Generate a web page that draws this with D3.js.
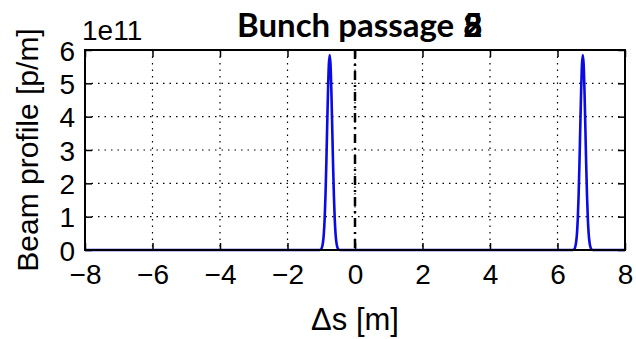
<!DOCTYPE html>
<html>
<head>
<meta charset="utf-8">
<script src="https://cdn.jsdelivr.net/npm/d3@7"></script>
<style>
  html, body { margin: 0; padding: 0; background: #fff; }
  svg { display: block; }
</style>
</head>
<body>
<svg id="chart" width="636" height="339"></svg>
<script>
// ---- data (profile in units of 1e11 p/m) ----
const titleText = "Bunch passage";
const titleDigits = ["8", "5", "3", "2"];
const xTicks = [-8, -6, -4, -2, 0, 2, 4, 6, 8];
const yTicks = [0, 1, 2, 3, 4, 5, 6];
const yExponent = "1e11";
const xLabel = "\u0394s [m]";
const yLabel = "Beam profile [p/m]";
const markerPosition = 0;

const positions = [
  -8, -1.05, -1.0, -0.975, -0.95, -0.925, -0.9, -0.875, -0.85, -0.825, -0.8, -0.775,
  -0.75, -0.725, -0.7, -0.675, -0.65, -0.625, -0.6, -0.575, -0.55, -0.525, -0.5, -0.45,
  6.45, 6.5, 6.525, 6.55, 6.575, 6.6, 6.625, 6.65, 6.675, 6.7, 6.725,
  6.75, 6.775, 6.8, 6.825, 6.85, 6.875, 6.9, 6.925, 6.95, 6.975, 7.0, 7.05, 8
];
const profile = [
  0, 0, 0.03, 0.09, 0.22, 0.47, 0.92, 1.62, 2.57, 3.69, 4.76, 5.56,
  5.85, 5.56, 4.76, 3.69, 2.57, 1.62, 0.92, 0.47, 0.22, 0.09, 0.03, 0,
  0, 0.03, 0.09, 0.22, 0.47, 0.92, 1.62, 2.57, 3.69, 4.76, 5.56,
  5.85, 5.56, 4.76, 3.69, 2.57, 1.62, 0.92, 0.47, 0.22, 0.09, 0.03, 0, 0
];

// ---- layout ----
const svg = d3.select("#chart");
const m = { left: 85, right: 625, top: 50, bottom: 250 };
const x = d3.scaleLinear().domain([-8, 8]).range([m.left, m.right]);
const y = d3.scaleLinear().domain([0, 6]).range([m.bottom, m.top]);
const tickFont = "'Liberation Sans', Arial, sans-serif";
const titleFont = "Lato, 'Open Sans', sans-serif";

// grid
const grid = svg.append("g");
grid.selectAll("line.gx").data(xTicks.slice(1, -1)).join("line")
  .attr("x1", d => x(d)).attr("x2", d => x(d))
  .attr("y1", m.top).attr("y2", m.bottom)
  .attr("stroke", "#000").attr("stroke-width", 1.2).attr("stroke-dasharray", "1.5,5");
grid.selectAll("line.gy").data(yTicks.slice(1, -1)).join("line")
  .attr("y1", d => y(d)).attr("y2", d => y(d))
  .attr("x1", m.left).attr("x2", m.right)
  .attr("stroke", "#000").attr("stroke-width", 1.2).attr("stroke-dasharray", "1.5,5");

// dash-dot marker line
svg.append("line")
  .attr("x1", x(markerPosition)).attr("x2", x(markerPosition))
  .attr("y1", m.top).attr("y2", m.bottom)
  .attr("stroke", "#000").attr("stroke-width", 2.5)
  .attr("stroke-dasharray", "9,5,2,5");

// profile line
const pts = positions.map((p, i) => [p, profile[i]]);
svg.append("path")
  .datum(pts)
  .attr("fill", "none")
  .attr("stroke", "#0a0ae6")
  .attr("stroke-width", 2.6)
  .attr("stroke-linejoin", "round")
  .attr("d", d3.line().x(d => x(d[0])).y(d => y(d[1])).curve(d3.curveMonotoneX));

// axes with inward ticks
const tl = 7;
const axB = svg.append("g").attr("transform", `translate(0,${m.bottom})`)
  .call(d3.axisBottom(x).tickValues(xTicks).tickSizeInner(-tl).tickSizeOuter(0).tickPadding(14)
    .tickFormat(d => d < 0 ? "\u2212" + Math.abs(d) : String(d)));
const axT = svg.append("g").attr("transform", `translate(0,${m.top})`)
  .call(d3.axisTop(x).tickValues(xTicks).tickSizeInner(-tl).tickSizeOuter(0).tickFormat(""));
const axL = svg.append("g").attr("transform", `translate(${m.left},0)`)
  .call(d3.axisLeft(y).tickValues(yTicks).tickSizeInner(-tl).tickSizeOuter(0).tickPadding(10)
    .tickFormat(d3.format("d")));
const axR = svg.append("g").attr("transform", `translate(${m.right},0)`)
  .call(d3.axisRight(y).tickValues(yTicks).tickSizeInner(-tl).tickSizeOuter(0).tickFormat(""));
[axB, axT, axL, axR].forEach(a => {
  a.select(".domain").remove();
  a.selectAll(".tick line").attr("stroke", "#000").attr("stroke-width", 1.5);
  a.selectAll(".tick text").attr("fill", "#000")
    .style("font-family", tickFont).style("font-size", "28px");
});
axB.selectAll(".tick text").attr("dy", "0.71em");
axL.selectAll(".tick text").attr("dy", "0.36em");

// box
svg.append("rect")
  .attr("x", m.left).attr("y", m.top)
  .attr("width", m.right - m.left).attr("height", m.bottom - m.top)
  .attr("fill", "none").attr("stroke", "#000").attr("stroke-width", 2);

// exponent
svg.append("text").attr("x", 82).attr("y", 40)
  .style("font-family", tickFont).style("font-size", "28px").text(yExponent);

// axis labels
svg.append("text").attr("x", x(0)).attr("y", 330).attr("text-anchor", "middle")
  .style("font-family", tickFont).style("font-size", "31px").text(xLabel);
svg.append("text")
  .attr("transform", `translate(38,${(m.top + m.bottom) / 2}) rotate(-90)`)
  .attr("text-anchor", "middle")
  .style("font-family", tickFont).style("font-size", "30px").text(yLabel);

// title with overlapping digits
const title = svg.append("text").attr("x", 237).attr("y", 37)
  .style("font-family", titleFont).style("font-size", "33px")
  .style("font-weight", "bold").text(titleText);
const tw = title.node().getComputedTextLength();
svg.selectAll("text.digit").data(titleDigits).join("text")
  .attr("class", "digit")
  .attr("x", 237 + tw + 9).attr("y", 37)
  .style("font-family", titleFont).style("font-size", "33px")
  .style("font-weight", "bold").text(d => d);
</script>
</body>
</html>
